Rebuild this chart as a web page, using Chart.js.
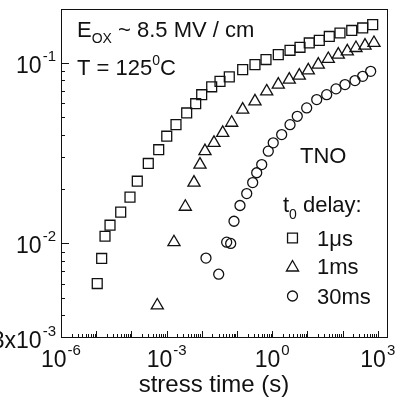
<!DOCTYPE html>
<html>
<head>
<meta charset="utf-8">
<script src="https://cdn.jsdelivr.net/npm/chart.js@4/dist/chart.umd.min.js"></script>
<style>
  html, body { margin: 0; padding: 0; background: #fff; }
  #wrap { width: 403px; height: 400px; position: relative; }
</style>
</head>
<body>
<div id="wrap"><canvas id="myChart"></canvas></div>
<script>
// stress time (s) and value for each t0 delay
const time1us = [1.07e-5, 1.43e-5, 1.78e-5, 2.47e-5, 4.97e-5, 9.12e-5, 1.47e-4, 3.02e-4, 5.97e-4, 1.01e-3,
                 1.85e-3, 3.72e-3, 6.71e-3, 9.93e-3, 0.0191, 0.0329, 0.0604, 0.145, 0.324, 0.667,
                 1.49, 3.21, 6.17, 11.3, 21.8, 41.9, 84.3, 182, 372, 716];
const val1us = [0.0060, 0.00826, 0.01096, 0.01262, 0.0149, 0.01803, 0.0221, 0.0277, 0.0330, 0.0392,
                0.0454, 0.0527, 0.0593, 0.0665, 0.0735, 0.0788, 0.0834, 0.0915, 0.0975, 0.104,
                0.1107, 0.117, 0.1216, 0.1285, 0.1327, 0.1396, 0.1459, 0.1507, 0.1555, 0.1622];

const time1ms = [5.44e-4, 1.62e-3, 3.40e-3, 6.0e-3, 8.89e-3, 0.0123, 0.0222, 0.0393, 0.0706, 0.145,
                 0.324, 0.698, 1.49, 3.06, 5.89, 10.6, 20.4, 39.3, 75.5, 136, 240, 433, 780];
const val1ms = [0.00454, 0.01016, 0.01596, 0.0217, 0.0273, 0.0324, 0.0360, 0.0409, 0.0465, 0.0550,
                0.0611, 0.0693, 0.0756, 0.0805, 0.0848, 0.0907, 0.0975, 0.1048, 0.1107, 0.1154,
                0.1205, 0.1242, 0.1285];

const time30ms = [0.01315, 0.0302, 0.0509, 0.0662, 0.0822, 0.1216, 0.189, 0.279, 0.363, 0.504,
                  0.774, 1.07, 1.86, 3.21, 5.16, 9.55, 18.4, 35.3, 65.0, 117, 225, 372, 628];
const val30ms = [0.0083, 0.00676, 0.01017, 0.0100, 0.01327, 0.01622, 0.01888, 0.0217, 0.0246, 0.0273,
                 0.0324, 0.0360, 0.0400, 0.0454, 0.0505, 0.0562, 0.0625, 0.0665, 0.0716, 0.0756,
                 0.0796, 0.0840, 0.0895];

const seriesLabels = ["1\u03bcs", "1ms", "30ms"];
const xTickLabels = [[1e-6, "10", "-6"], [1e-3, "10", "-3"], [1, "10", "0"], [1e3, "10", "3"]];
const yTickLabels = [[1e-1, "10", "-1"], [1e-2, "10", "-2"], [3e-3, "3x10", "-3"]];

const FONT = "'Liberation Sans', Arial, sans-serif";
const INK = "#111";

function pts(xs, ys) {
    return xs.map((t, i) => ({x: t, y: ys[i]}));
}

// base text with a superscript
function drawPow(ctx, base, exp, x, y, align) {
    ctx.font = "23px " + FONT;
    const wb = ctx.measureText(base).width;
    ctx.font = "15px " + FONT;
    const we = ctx.measureText(exp).width;
    const total = wb + we + 1;
    let x0 = align == "right" ? x - total : x - total / 2;
    ctx.textBaseline = "alphabetic";
    ctx.textAlign = "left";
    ctx.font = "23px " + FONT;
    ctx.fillText(base, x0, y + 8);
    ctx.font = "15px " + FONT;
    ctx.fillText(exp, x0 + wb + 1, y - 4);
}

const decor = {
    id: "decor",
    afterDraw(chart) {
        const ctx = chart.ctx;
        const a = chart.chartArea;
        const xs = chart.scales.x;
        const ys = chart.scales.y;
        ctx.save();
        ctx.strokeStyle = INK;
        ctx.fillStyle = INK;
        ctx.lineWidth = 1;
        ctx.strokeRect(a.left + 0.5, a.top + 0.5, a.right - a.left - 1, a.bottom - a.top - 1);

        // inward ticks, bottom and left only
        ctx.beginPath();
        for (let k = -7; k <= 3; k++) {
            for (let m = 1; m <= 9; m++) {
                const v = m * Math.pow(10, k);
                if (v < xs.min * 0.999 || v > xs.max) continue;
                const px = Math.round(xs.getPixelForValue(v)) + 0.5;
                const len = m == 1 ? 7 : 4;
                ctx.moveTo(px, a.bottom);
                ctx.lineTo(px, a.bottom - len);
            }
        }
        for (let k = -3; k <= -1; k++) {
            for (let m = 1; m <= 9; m++) {
                const v = m * Math.pow(10, k);
                if (v < ys.min * 1.001 || v > ys.max) continue;
                const py = Math.round(ys.getPixelForValue(v)) + 0.5;
                const len = m == 1 ? 8 : 4;
                ctx.moveTo(a.left, py);
                ctx.lineTo(a.left + len, py);
            }
        }
        ctx.stroke();

        // tick labels
        xTickLabels.forEach(([v, b, e]) => drawPow(ctx, b, e, xs.getPixelForValue(v), a.bottom + 21, "center"));
        yTickLabels.forEach(([v, b, e]) => drawPow(ctx, b, e, a.left - 5, ys.getPixelForValue(v) + 2, "right"));

        // axis title
        ctx.font = "24px " + FONT;
        ctx.textAlign = "center";
        ctx.textBaseline = "alphabetic";
        ctx.fillText("stress time (s)", 214, 392);

        // annotations
        ctx.textAlign = "left";
        ctx.font = "22px " + FONT;
        ctx.fillText("E", 77, 37);
        let w = ctx.measureText("E").width;
        ctx.font = "14px " + FONT;
        ctx.fillText("OX", 77 + w, 43);
        w += ctx.measureText("OX").width;
        ctx.font = "22px " + FONT;
        ctx.fillText(" ~ 8.5 MV / cm", 77 + w, 37);

        ctx.fillText("T = 125", 77, 75);
        w = ctx.measureText("T = 125").width;
        ctx.font = "14px " + FONT;
        ctx.fillText("0", 77 + w, 65);
        w += ctx.measureText("0").width;
        ctx.font = "22px " + FONT;
        ctx.fillText("C", 77 + w, 75);

        ctx.fillText("TNO", 300, 163);

        ctx.fillText("t", 283, 212);
        w = ctx.measureText("t").width;
        ctx.font = "14px " + FONT;
        ctx.fillText("0", 283 + w, 219);
        w += ctx.measureText("0").width;
        ctx.font = "22px " + FONT;
        ctx.fillText(" delay:", 283 + w, 212);

        // legend rows
        const rowsY = [238, 266, 296];
        chart.data.datasets.forEach((ds, i) => {
            ctx.fillStyle = "#fff";
            ctx.strokeStyle = INK;
            ctx.lineWidth = ds.borderWidth;
            Chart.helpers.drawPoint(ctx, {pointStyle: ds.pointStyle, radius: ds.pointRadius, rotation: 0, borderWidth: ds.borderWidth}, 292.5, rowsY[i] + (ds.pointStyle == "triangle" ? 1.5 : 0));
            ctx.fillStyle = INK;
            ctx.font = "22px " + FONT;
            ctx.fillText(seriesLabels[i], 317, rowsY[i] + 8);
        });
        ctx.restore();
    }
};

function fitY(scale) { scale.width = 61; }
function fitX(scale) { scale.height = 62; }

new Chart(document.getElementById("myChart"), {
    type: "scatter",
    data: {
        datasets: [
            {label: seriesLabels[0], data: pts(time1us, val1us), pointStyle: "rect", pointRadius: 7,
             borderColor: INK, backgroundColor: "rgba(255,255,255,0)", borderWidth: 1.3},
            {label: seriesLabels[1], data: pts(time1ms, val1ms), pointStyle: "triangle", pointRadius: 7,
             borderColor: INK, backgroundColor: "rgba(255,255,255,0)", borderWidth: 1.3},
            {label: seriesLabels[2], data: pts(time30ms, val30ms), pointStyle: "circle", pointRadius: 5,
             borderColor: INK, backgroundColor: "rgba(255,255,255,0)", borderWidth: 1.3}
        ]
    },
    options: {
        responsive: true,
        maintainAspectRatio: false,
        animation: false,
        layout: {padding: {top: 9, right: 15, left: 0, bottom: 0}},
        plugins: {legend: {display: false}, tooltip: {enabled: false}},
        scales: {
            x: {type: "logarithmic", min: 1e-6, max: 1950,
                grid: {display: false}, border: {display: false},
                ticks: {display: false}, afterFit: fitX},
            y: {type: "logarithmic", min: 3e-3, max: 0.198,
                grid: {display: false}, border: {display: false},
                ticks: {display: false}, afterFit: fitY}
        }
    },
    plugins: [decor]
});
</script>
</body>
</html>
